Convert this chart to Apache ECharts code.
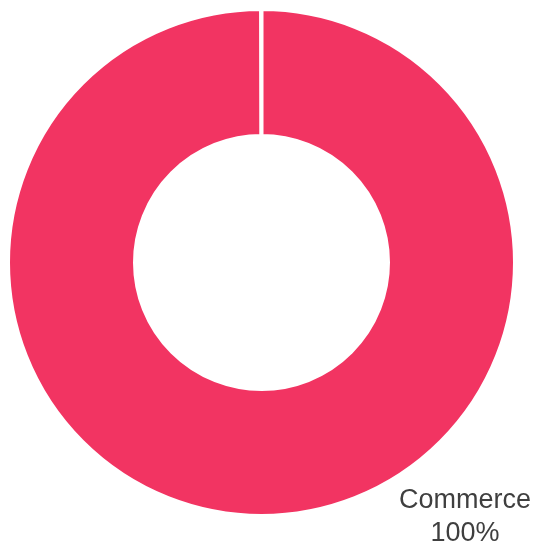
<!DOCTYPE html>
<html>
<head>
<meta charset="utf-8">
<style>
html,body{margin:0;padding:0;background:#fff;}
#chart{width:541px;height:546px;}
</style>
<script src="https://cdn.jsdelivr.net/npm/echarts@6/dist/echarts.min.js"></script>
</head>
<body>
<div id="chart"></div>
<script>
const categories = ['Commerce'];
const values = [100];
const colors = ['#F23462'];

const chart = echarts.init(document.getElementById('chart'), null, {renderer: 'canvas'});
chart.setOption({
  animation: false,
  series: [{
    type: 'pie',
    center: [261.5, 262.5],
    radius: [126.5, 253.5],
    startAngle: 90,
    endAngle: -269.9,
    clockwise: true,
    avoidLabelOverlap: false,
    itemStyle: { borderColor: '#ffffff', borderWidth: 4 },
    label: {
      show: true,
      position: 'outside',
      formatter: '{b}\n{d}%',
      fontFamily: 'Liberation Sans, Arial, sans-serif',
      fontSize: 27,
      lineHeight: 33,
      color: '#3f3f3f',
      align: 'center'
    },
    labelLine: { show: false },
    labelLayout: { x: 465, y: 517, align: 'center', verticalAlign: 'middle' },
    emphasis: { disabled: true },
    data: categories.map((c, i) => ({ name: c, value: values[i], itemStyle: { color: colors[i] } }))
  }]
});
</script>
</body>
</html>
